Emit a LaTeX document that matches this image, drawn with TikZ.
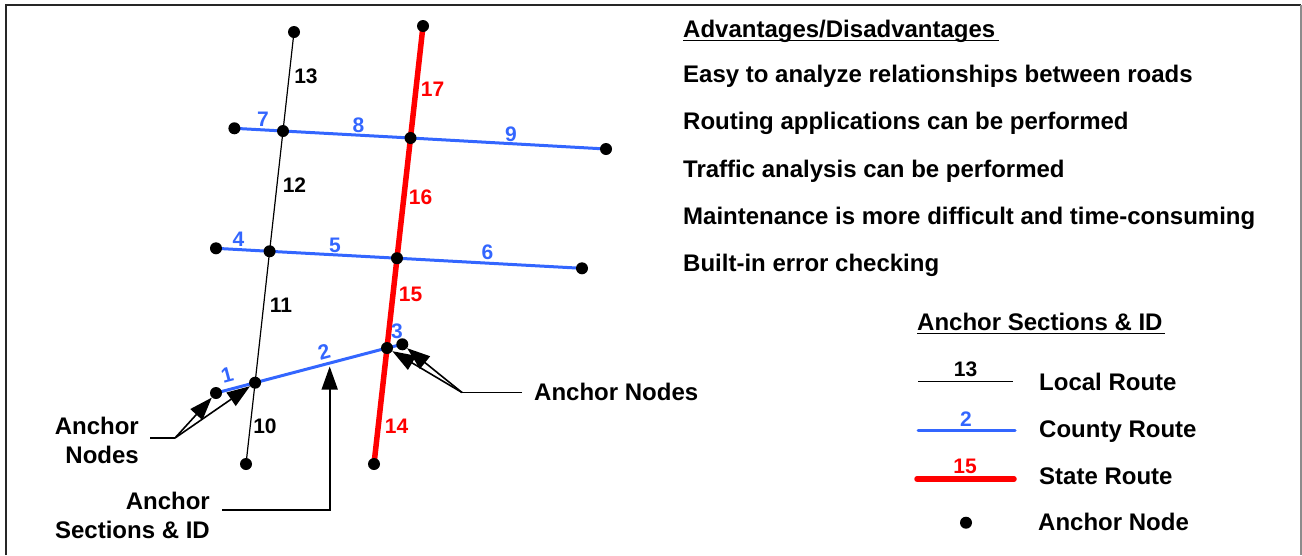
\documentclass[tikz,border=0pt]{standalone}
\usepackage{fontspec}
\setmainfont{Liberation Sans}
\usetikzlibrary{arrows.meta,backgrounds}
\definecolor{countyblue}{RGB}{51,102,255}
\definecolor{statered}{RGB}{255,0,0}
\begin{document}
\begin{tikzpicture}[x=1pt,y=-1pt,
  dot/.style={circle,fill=black,inner sep=0pt,minimum size=12pt},
  localrd/.style={line width=1.2pt,black},
  countyrd/.style={line width=3pt,countyblue,line cap=round},
  staterd/.style={line width=5.5pt,statered,line cap=round},
  idlbl/.style={inner sep=0pt,anchor=base,font=\fontsize{21}{21}\selectfont\bfseries},
  txt/.style={inner sep=0pt,anchor=base west,font=\fontsize{24}{24}\selectfont\bfseries},
  txtr/.style={inner sep=0pt,anchor=base east,font=\fontsize{24}{24}\selectfont\bfseries},
  callout/.style={line width=1.6pt,black},
  pointer/.style={callout,-{Triangle[length=23pt,width=16pt]}},
  frameline/.style={line width=1.5pt}
]
\useasboundingbox (0,0) rectangle (1302,555);

% outer frame (open at the bottom)
\draw[frameline,black!85] (6,555) -- (6,5) -- (1301,5);
\draw[frameline,black!45] (1301,5) -- (1301,555);

% ---------- anchor nodes ----------
% local route
\node[dot] (L0) at (294,32) {};
\node[dot] (L1) at (283.0,131) {};
\node[dot] (L2) at (269.6,251.3) {};
\node[dot] (L3) at (255.1,382.7) {};
\node[dot] (L4) at (246,464) {};
% state route
\node[dot] (S0) at (423,26) {};
\node[dot] (S1) at (410.5,138) {};
\node[dot] (S2) at (397,258.2) {};
\node[dot] (S3) at (387,348) {};
\node[dot] (S4) at (374,464) {};
% county route ends
\node[dot] (W7) at (234.4,128.3) {};
\node[dot] (E9) at (606,149) {};
\node[dot] (W4) at (216,248.3) {};
\node[dot] (E6) at (582,268.3) {};
\node[dot] (N1) at (216,393) {};
\node[dot] (N3) at (402.3,344.3) {};

% ---------- road sections ----------
\begin{pgfonlayer}{background}
\draw[localrd] (L0.center) -- (L1.center) -- (L2.center) -- (L3.center) -- (L4.center);
\draw[countyrd] (W7.center) -- (L1.center) -- (S1.center) -- (E9.center);
\draw[countyrd] (W4.center) -- (L2.center) -- (S2.center) -- (E6.center);
\draw[countyrd] (N1.center) -- (L3.center) -- (S3.center) -- (N3.center);
\draw[staterd] (S0.center) -- (S1.center) -- (S2.center) -- (S3.center) -- (S4.center);
\end{pgfonlayer}

% ---------- section IDs ----------
\node[idlbl] (id13) at (306,83) {13};
\node[idlbl] (id12) at (294.5,192) {12};
\node[idlbl] (id11) at (281,312) {11};
\node[idlbl] (id10) at (265,433) {10};
\node[idlbl,statered] (id17) at (432.5,96.5) {17};
\node[idlbl,statered] (id16) at (420.5,204) {16};
\node[idlbl,statered] (id15) at (410.5,301.5) {15};
\node[idlbl,statered] (id14) at (396.5,433) {14};
\node[idlbl,countyblue] (id7) at (263,126) {7};
\node[idlbl,countyblue] (id8) at (358.5,132) {8};
\node[idlbl,countyblue] (id9) at (511,141.5) {9};
\node[idlbl,countyblue] (id4) at (238.5,246.5) {4};
\node[idlbl,countyblue] (id5) at (335,252) {5};
\node[idlbl,countyblue] (id6) at (487.5,259) {6};
\node[idlbl,countyblue] (id3) at (397,338) {3};
\node[idlbl,countyblue,rotate=15] (id2) at (326,359) {2};
\node[idlbl,countyblue,rotate=15] (id1) at (229,382) {1};

% ---------- callouts ----------
\node[txtr] (anL1) at (139,434) {Anchor};
\node[txtr] (anL2) at (139,463) {Nodes};
\coordinate (kL0) at (150,438);
\coordinate (kL) at (175,438);
\draw[callout] (kL0) -- (kL);
\draw[pointer] (kL) -- (N1);
\draw[pointer] (kL) -- (L3);

\node[txtr] (asL1) at (210,509) {Anchor};
\node[txtr] (asL2) at (210,538) {Sections \& ID};
\coordinate (kS0) at (222,510);
\coordinate (kS) at (329.7,510);
\coordinate (kSt) at (329.7,366.5);
\draw[pointer] (kS0) -- (kS) -- (kSt);

\node[txt] (anR) at (534,400) {Anchor Nodes};
\coordinate (kR0) at (522,392.5);
\coordinate (kR) at (462,392.5);
\draw[callout] (kR0) -- (kR);
\draw[pointer] (kR) -- (S3);
\draw[pointer] (kR) -- (N3);

% ---------- advantages / disadvantages ----------
\node[txt] (advT) at (683,37) {Advantages/Disadvantages};
\draw[line width=1.8pt] ([yshift=-3.5pt]advT.base west) -- ([xshift=3pt,yshift=-3.5pt]advT.base east);
\node[txt] (adv1) at (683,82) {Easy to analyze relationships between roads};
\node[txt] (adv2) at (683,129.5) {Routing applications can be performed};
\node[txt] (adv3) at (683,177) {Traffic analysis can be performed};
\node[txt] (adv4) at (683,224) {Maintenance is more difficult and time-consuming};
\node[txt] (adv5) at (683,271.5) {Built-in error checking};

% ---------- legend ----------
\node[txt] (legT) at (917,330) {Anchor Sections \& ID};
\draw[line width=1.8pt] ([yshift=-3.5pt]legT.base west) -- ([xshift=2pt,yshift=-3.5pt]legT.base east);

\coordinate (lgA0) at (918,381.5);
\coordinate (lgA1) at (1013,381.5);
\draw[localrd] (lgA0) -- (lgA1);
\node[idlbl] (lg13) at (965.5,376) {13};
\node[txt] (lgLocal) at (1039,390.7) {Local Route};

\coordinate (lgB0) at (918,430.5);
\coordinate (lgB1) at (1015,430.5);
\draw[countyrd] (lgB0) -- (lgB1);
\node[idlbl,countyblue] (lg2) at (966,426.5) {2};
\node[txt] (lgCounty) at (1039,437) {County Route};

\coordinate (lgC0) at (917,479);
\coordinate (lgC1) at (1014,479);
\draw[staterd] (lgC0) -- (lgC1);
\node[idlbl,statered] (lg15) at (965,473) {15};
\node[txt] (lgState) at (1039,484) {State Route};

\node[dot] (lgDot) at (966,522.7) {};
\node[txt] (lgNode) at (1038,530) {Anchor Node};
\end{tikzpicture}
\end{document}
